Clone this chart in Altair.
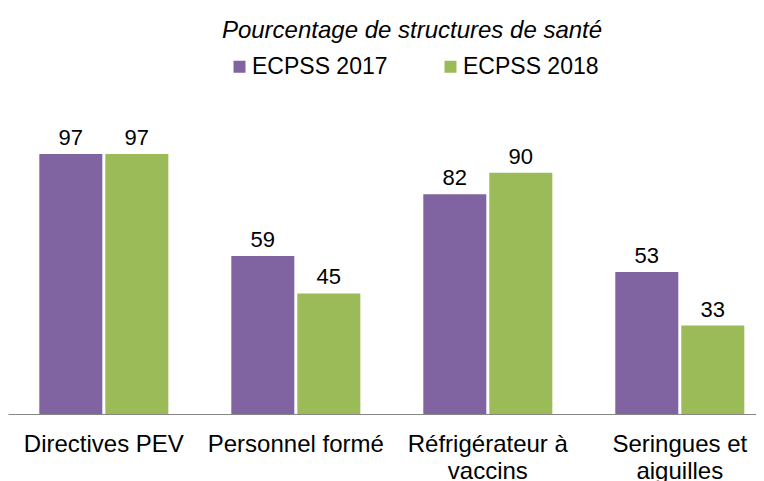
import altair as alt
import pandas as pd

categories = ["Directives PEV", "Personnel formé", "Réfrigérateur à vaccins", "Seringues et aiguilles"]
series = ["ECPSS 2017", "ECPSS 2018"]
values_2017 = [97, 59, 82, 53]
values_2018 = [97, 45, 90, 33]
colors = ["#8064A2", "#9BBB59"]
title_text = "Pourcentage de structures de santé"

rows = []
for c, a, b in zip(categories, values_2017, values_2018):
    rows.append({"cat": c, "serie": series[0], "val": a})
    rows.append({"cat": c, "serie": series[1], "val": b})
df = pd.DataFrame(rows)

FONT = "Liberation Sans"

label_expr = ("datum.label == 'Réfrigérateur à vaccins' ? ['Réfrigérateur à', 'vaccins'] : "
              "datum.label == 'Seringues et aiguilles' ? ['Seringues et', 'aiguilles'] : datum.label")

# view spans page x 8..756 (748 px); band step 192, first band starts at page x ~39
x = alt.X("cat:N", sort=categories, title=None,
          scale=alt.Scale(paddingInner=0.328, paddingOuter=0.112, align=0.728),
          axis=alt.Axis(labelAngle=0, labelFontSize=24, labelFont=FONT, labelColor="#000000",
                        labelExpr=label_expr, labelLineHeight=27, ticks=False, tickSize=0,
                        labelPadding=18, labelBaseline="top",
                        domainColor="#868686", domainWidth=1, grid=False))
y = alt.Y("val:Q", scale=alt.Scale(domain=[0, 100], nice=False), axis=None)
xoff = alt.XOffset("serie:N", sort=series, scale=alt.Scale(paddingInner=0.0455, paddingOuter=0))

color = alt.Color("serie:N", sort=series,
                  scale=alt.Scale(domain=series, range=colors),
                  legend=alt.Legend(orient="none", legendX=220, legendY=-91, direction="horizontal",
                                    title=None, symbolType="square", symbolSize=144,
                                    symbolStrokeWidth=0, labelFontSize=23, labelFont=FONT,
                                    labelColor="#000000", labelOffset=1, columnPadding=51,
                                    padding=0))

base = alt.Chart(df).encode(x=x, y=y, xOffset=xoff)

bars = base.mark_bar().encode(color=color)
labels = base.mark_text(baseline="alphabetic", dy=-9, fontSize=22, font=FONT, color="#000000").encode(
    text=alt.Text("val:Q"))

chart = alt.layer(bars, labels).properties(
    width=748, height=268,
    background="white",
    title=alt.TitleParams(title_text, fontSize=24, fontStyle="italic", font=FONT,
                          fontWeight="normal", anchor="middle", dx=30, offset=12, color="#000000"),
    autosize=alt.AutoSizeParams(type="none"),
    padding={"top": 138, "left": 0, "right": 0, "bottom": 67},
).configure_view(strokeWidth=0, stroke="transparent")

chart.save("out.html", embed_options={"renderer": "svg", "actions": False})
